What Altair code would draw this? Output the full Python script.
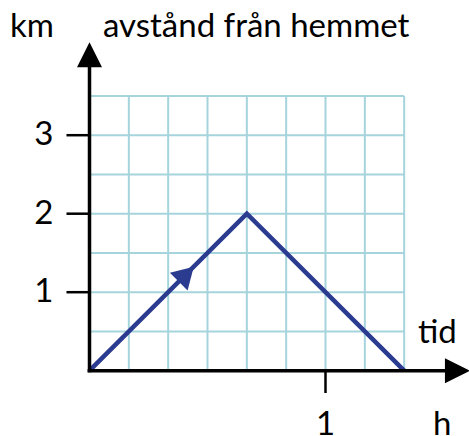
import altair as alt
import pandas as pd

# Journey: distance from home (km) against time (h)
times_h = [0, 2 / 3, 4 / 3]
distance_km = [0, 2, 0]

# Axis ticks and their labels
y_ticks = [1, 2, 3]
y_tick_labels = ["1", "2", "3"]
x_ticks = [1]
x_tick_labels = ["1"]

# Grid: 10-minute columns, half-km rows
grid_cols = 8
grid_rows = 7
col_step = 1 / 6
row_step = 0.5

W, H = 469, 436
# pixel placement of the origin and units
ox, oy = 89.5, 370.7
px_per_h, px_per_km = 236.0, 78.5

x_dom = [-ox / px_per_h, (W - ox) / px_per_h]
y_dom = [(oy - H) / px_per_km, oy / px_per_km]
xs = alt.Scale(domain=x_dom, nice=False, zero=False)
ys = alt.Scale(domain=y_dom, nice=False, zero=False)

FONT = "Lato"
FS = 33
BLUE = "#2B3C90"
GRID = "#A6D4DC"

grid_max_h = grid_cols * col_step
grid_max_km = grid_rows * row_step

vgrid = pd.DataFrame({"x": [k * col_step for k in range(1, grid_cols + 1)],
                      "y": 0.0, "y2": grid_max_km})
hgrid = pd.DataFrame({"y": [k * row_step for k in range(1, grid_rows + 1)],
                      "x": 0.0, "x2": grid_max_h})

v_layer = alt.Chart(vgrid).mark_rule(color=GRID, strokeWidth=2).encode(
    x=alt.X("x:Q", scale=xs, axis=None),
    y=alt.Y("y:Q", scale=ys, axis=None),
    y2="y2:Q",
)
h_layer = alt.Chart(hgrid).mark_rule(color=GRID, strokeWidth=2).encode(
    y=alt.Y("y:Q", scale=ys, axis=None),
    x=alt.X("x:Q", scale=xs, axis=None),
    x2="x2:Q",
)

path = pd.DataFrame({"t": times_h, "d": distance_km, "i": range(len(times_h))})
line = alt.Chart(path).mark_line(
    color=BLUE, strokeWidth=4.5, strokeJoin="miter", strokeCap="butt"
).encode(
    x=alt.X("t:Q", scale=xs, axis=None),
    y=alt.Y("d:Q", scale=ys, axis=None),
    order="i:Q",
)

# direction arrow part-way along the outward leg
frac = 0.615
arrow_pt = pd.DataFrame({"t": [times_h[0] + frac * (times_h[1] - times_h[0])],
                         "d": [distance_km[0] + frac * (distance_km[1] - distance_km[0])]})
dir_arrow = alt.Chart(arrow_pt).mark_point(
    shape="M0.85,0L-0.85,-1L-0.85,1Z", size=625, angle=315,
    filled=True, color=BLUE, opacity=1, strokeWidth=0,
).encode(
    x=alt.X("t:Q", scale=xs, axis=None),
    y=alt.Y("d:Q", scale=ys, axis=None),
)

# axis lines with arrowheads
y_axis_top = 3.873
x_axis_end = 1.511
yaxis = alt.Chart(pd.DataFrame({"x": [0.0], "y": [-0.02], "y2": [y_axis_top]})).mark_rule(
    color="black", strokeWidth=3.5).encode(
    x=alt.X("x:Q", scale=xs, axis=None),
    y=alt.Y("y:Q", scale=ys, axis=None),
    y2="y2:Q",
)
xaxis = alt.Chart(pd.DataFrame({"y": [0.0], "x": [-0.008], "x2": [x_axis_end]})).mark_rule(
    color="black", strokeWidth=3.5).encode(
    y=alt.Y("y:Q", scale=ys, axis=None),
    x=alt.X("x:Q", scale=xs, axis=None),
    x2="x2:Q",
)
up_head = alt.Chart(pd.DataFrame({"x": [0.0], "y": [4.025]})).mark_point(
    shape="M0,-1L-1,1L1,1Z", size=625, filled=True, color="black", opacity=1, strokeWidth=0
).encode(x=alt.X("x:Q", scale=xs, axis=None), y=alt.Y("y:Q", scale=ys, axis=None))
right_head = alt.Chart(pd.DataFrame({"x": [1.559], "y": [0.0]})).mark_point(
    shape="M1,0L-1,-1L-1,1Z", size=625, filled=True, color="black", opacity=1, strokeWidth=0
).encode(x=alt.X("x:Q", scale=xs, axis=None), y=alt.Y("y:Q", scale=ys, axis=None))

# tick marks
tick_len_h = 0.0975
tick_len_km = 0.284
yt = pd.DataFrame({"y": y_ticks, "x": -tick_len_h, "x2": 0.0, "lab": y_tick_labels})
xt = pd.DataFrame({"x": x_ticks, "y": -tick_len_km, "y2": 0.0, "lab": x_tick_labels})
ytick = alt.Chart(yt).mark_rule(color="black", strokeWidth=2.5).encode(
    y=alt.Y("y:Q", scale=ys, axis=None), x=alt.X("x:Q", scale=xs, axis=None), x2="x2:Q")
xtick = alt.Chart(xt).mark_rule(color="black", strokeWidth=2.5).encode(
    x=alt.X("x:Q", scale=xs, axis=None), y=alt.Y("y:Q", scale=ys, axis=None), y2="y2:Q")

# baseline of the labels under the time axis
bottom_km = -0.815

ylab = alt.Chart(yt).mark_text(
    align="right", baseline="middle", font=FONT, fontSize=FS, color="black", dx=-36
).encode(y=alt.Y("y:Q", scale=ys, axis=None),
         x=alt.X("x2:Q", scale=xs, axis=None), text="lab:N")
xlab = alt.Chart(xt.assign(base=bottom_km)).mark_text(
    align="center", baseline="alphabetic", font=FONT, fontSize=FS, color="black"
).encode(x=alt.X("x:Q", scale=xs, axis=None),
         y=alt.Y("base:Q", scale=ys, axis=None), text="lab:N")

# axis names and units
names = pd.DataFrame({
    "x": [-0.337, 0.0572, 1.392, 1.455],
    "y": [4.247, 4.247, 0.349, bottom_km],
    "txt": ["km", "avstånd från hemmet", "tid", "h"],
})
name_layer = alt.Chart(names).mark_text(
    align="left", baseline="alphabetic", font=FONT, fontSize=FS, color="black"
).encode(x=alt.X("x:Q", scale=xs, axis=None),
         y=alt.Y("y:Q", scale=ys, axis=None), text="txt:N")

chart = alt.layer(
    v_layer, h_layer, line, dir_arrow, yaxis, xaxis, up_head, right_head,
    ytick, xtick, ylab, xlab, name_layer,
).properties(
    width=W, height=H, padding=0, autosize=alt.AutoSizeParams(type="none"),
    background="white",
).configure_view(stroke=None)

chart.save("out.html", embed_options={"renderer": "svg", "actions": False})
